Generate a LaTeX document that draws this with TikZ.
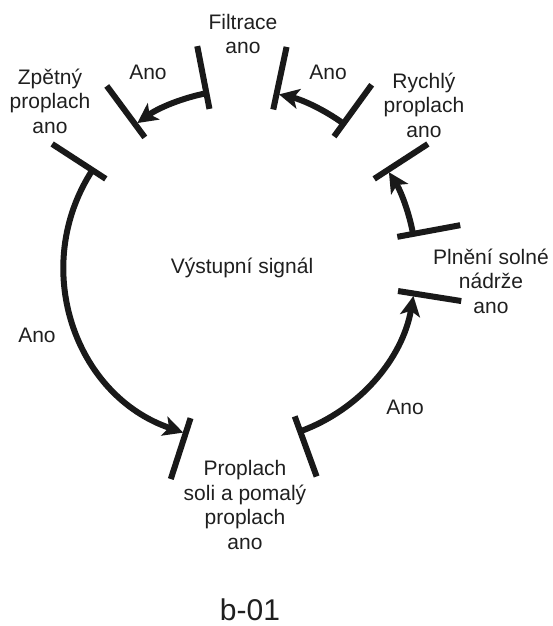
\documentclass[tikz,border=0pt]{standalone}
\usepackage{fontspec}
\setmainfont{Liberation Sans}
\usetikzlibrary{arrows.meta}

\begin{document}
\begin{tikzpicture}[x=1pt,y=1pt, every node/.style={font=\fontsize{21}{24.5}\selectfont,text=black!88,align=center,inner sep=0pt},
  bar/.style={line width=6pt,draw=black!90},
  flow/.style={line width=6pt,draw=black!90,-{Stealth[length=20pt,width=20pt,inset=5pt]}}]
\useasboundingbox (-240,-360) rectangle (312,266);
\node (signal) at (2,-2) {Výstupní signál};
\node (filtrace) at (3,232) {Filtrace\\ano};
\node (zpetny) at (-190,165) {Zpětný\\proplach\\ano};
\node (rychly) at (184,161) {Rychlý\\proplach\\ano};
\node (plneni) at (251,-15) {Plnění solné\\nádrže\\ano};
\node (proplach) at (5,-239) {Proplach\\soli a pomalý\\proplach\\ano};
\node (code) at (10,-344) {\fontsize{30}{34}\selectfont b-01};
% bars
\foreach \a in {101,78,126.5,147,252,-70,-9,10.5,33,54}
  \draw[bar] (\a:160) -- (\a:224);
\coordinate (fil-out) at (101:176); \coordinate (fil-in) at (77.2:176);
\coordinate (zpe-in) at (125.7:176); \coordinate (zpe-out) at (147:176);
\coordinate (pro-in) at (251.2:176); \coordinate (pro-out) at (-70:176);
\coordinate (pln-in) at (-9.8:176); \coordinate (pln-out) at (10.5:176);
\coordinate (ryc-in) at (32.2:176); \coordinate (ryc-out) at (54:176);
\draw[flow] (fil-out) to[bend right=12.4,looseness=0.86] (zpe-in);
\draw[flow] (zpe-out) to[bend right=52.1,looseness=1.06] (pro-in);
\draw[flow] (pro-out) to[bend right=30.1,looseness=0.92] (pln-in);
\draw[flow] (pln-out) to[bend right=10.9,looseness=0.86] (ryc-in);
\draw[flow] (ryc-out) to[bend right=11.6,looseness=0.86] (fil-in);
\node (ano1) at (-92,194) {Ano};
\node (ano2) at (88,194) {Ano};
\node (ano3) at (-203,-69) {Ano};
\node (ano4) at (165,-141) {Ano};
\end{tikzpicture}
\end{document}
